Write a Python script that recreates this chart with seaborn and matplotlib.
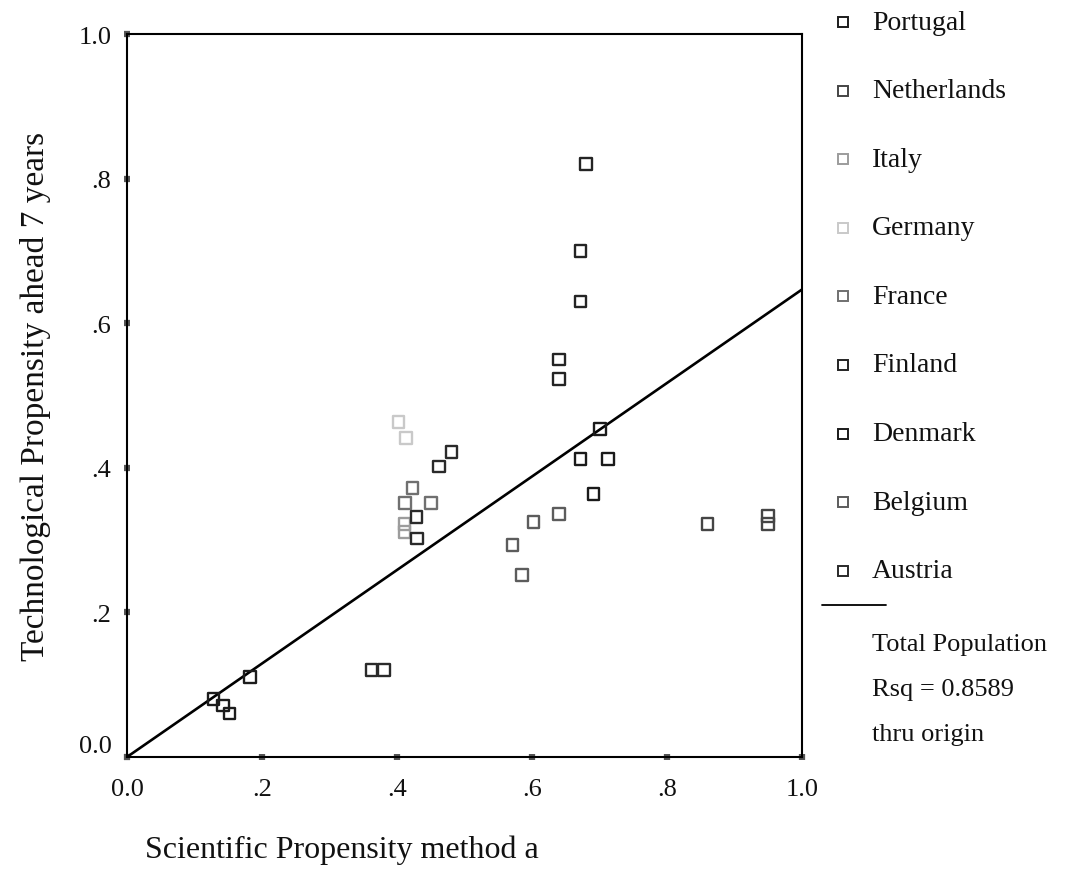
import numpy as np
import pandas as pd
import matplotlib
matplotlib.use("Agg")
import matplotlib.pyplot as plt
from matplotlib.lines import Line2D
import seaborn as sns

# Countries, in legend order
countries = ["Portugal", "Netherlands", "Italy", "Germany", "France",
             "Finland", "Denmark", "Belgium", "Austria"]

# Scientific propensity (method a) per country
sci = {
    "Portugal":    [0.128, 0.142, 0.152, 0.182],
    "Netherlands": [0.860, 0.950, 0.950],
    "Italy":       [0.411, 0.411],
    "Germany":     [0.402, 0.413],
    "France":      [0.423, 0.412, 0.450],
    "Finland":     [0.680, 0.672, 0.672, 0.640, 0.640],
    "Denmark":     [0.701, 0.672, 0.713, 0.691],
    "Belgium":     [0.640, 0.602, 0.571, 0.585],
    "Austria":     [0.481, 0.462, 0.429, 0.430, 0.362, 0.381],
}

# Technological propensity seven years ahead per country
tech = {
    "Portugal":    [0.080, 0.071, 0.060, 0.111],
    "Netherlands": [0.322, 0.333, 0.322],
    "Italy":       [0.322, 0.311],
    "Germany":     [0.463, 0.441],
    "France":      [0.372, 0.351, 0.351],
    "Finland":     [0.820, 0.700, 0.630, 0.550, 0.523],
    "Denmark":     [0.454, 0.412, 0.412, 0.364],
    "Belgium":     [0.336, 0.325, 0.293, 0.252],
    "Austria":     [0.422, 0.402, 0.332, 0.302, 0.120, 0.120],
}

shades = {
    "Portugal": "#1c1c1c", "Netherlands": "#454545", "Italy": "#9c9c9c",
    "Germany": "#c9c9c9", "France": "#707070", "Finland": "#242424",
    "Denmark": "#1a1a1a", "Belgium": "#5c5c5c", "Austria": "#2a2a2a",
}

tick_vals = [0.0, 0.2, 0.4, 0.6, 0.8, 1.0]
tick_text = ["0.0", ".2", ".4", ".6", ".8", "1.0"]
rsq_text = "Rsq = 0.8589"

rows = []
for c in countries:
    for xv, yv in zip(sci[c], tech[c]):
        rows.append({"country": c, "sci": xv, "tech": yv})
df = pd.DataFrame(rows)

sns.set_theme(style="white")
plt.rcParams["font.family"] = ["Liberation Serif", "DejaVu Serif"]

W, H = 1078, 895
fig = plt.figure(figsize=(W / 100, H / 100), dpi=100)
ax = fig.add_axes([127 / W, 1 - 758 / H, (802 - 127) / W, (758 - 35) / H])

sns.scatterplot(data=df, x="sci", y="tech", hue="country", hue_order=countries,
                palette=shades, marker="s", s=70, linewidth=1.7,
                legend=False, ax=ax, zorder=3)
# hollow squares: move the hue colour onto the outline
for coll in ax.collections:
    fc = coll.get_facecolors()
    coll.set_edgecolors(fc)
    coll.set_facecolors("none")

# least-squares line forced through the origin
slope = float((df["sci"] * df["tech"]).sum() / (df["sci"] ** 2).sum())
xs = np.array([0.0, 1.0])
ax.plot(xs, slope * xs, color="black", linewidth=1.9, zorder=2)

ax.set_xlim(0, 1)
ax.set_ylim(0, 1)
ax.set_xticks(tick_vals)
ax.set_xticklabels(tick_text)
ax.set_yticks(tick_vals)
ax.set_yticklabels(tick_text)
ax.tick_params(axis="both", which="major", bottom=True, left=True,
               top=False, right=False, direction="inout", length=4.5, width=4.5,
               color="#555555", labelsize=19)
ax.tick_params(axis="x", pad=13)
ax.tick_params(axis="y", pad=9)
for t in ax.get_xticklabels() + ax.get_yticklabels():
    t.set_color("#111111")
ax.get_yticklabels()[0].set_va("bottom")

for sp in ax.spines.values():
    sp.set_visible(True)
    sp.set_color("black")
    sp.set_linewidth(1.5)

ax.set_xlabel("")
ax.set_ylabel("Technological Propensity ahead 7 years", fontsize=24,
              color="#111111", labelpad=20)
fig.text(145 / W, 1 - 850 / H, "Scientific Propensity method a",
         fontsize=23, color="#111111", ha="left", va="center")

# key for the country markers and the fitted line
row0, step = 23, 68.6
for i, c in enumerate(countries):
    yy = 1 - (row0 + i * step) / H
    fig.add_artist(Line2D([843 / W], [yy], transform=fig.transFigure,
                          marker="s", markersize=6.5, markerfacecolor="none",
                          markeredgecolor=shades[c], markeredgewidth=1.4,
                          linestyle="none"))
    fig.text(872 / W, yy, c, fontsize=20, color="#111111",
             ha="left", va="center")

fig.add_artist(Line2D([822 / W, 886 / W], [1 - 606 / H, 1 - 606 / H],
                      transform=fig.transFigure, color="black", linewidth=1.3))
for txt, py in [("Total Population", 645), (rsq_text, 690), ("thru origin", 735)]:
    fig.text(872 / W, 1 - py / H, txt, fontsize=19, color="#111111",
             ha="left", va="center")

fig.savefig("out.png", dpi=100, facecolor="white")
